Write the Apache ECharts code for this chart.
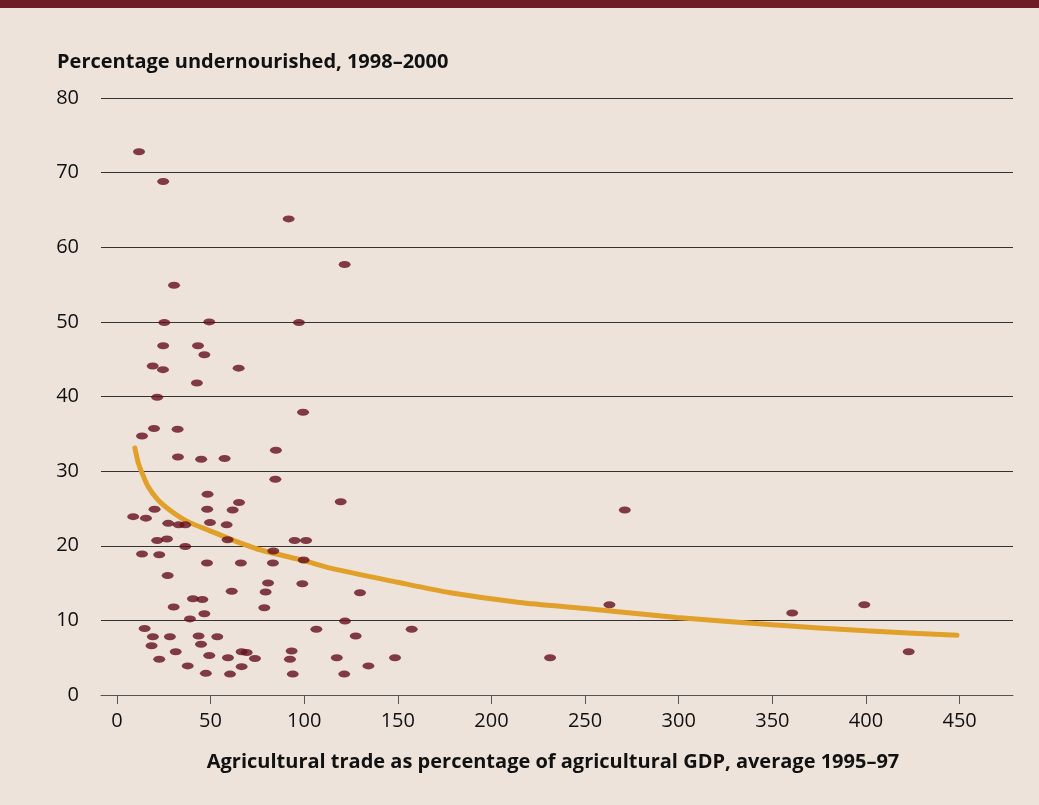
<!DOCTYPE html>
<html>
<head>
<meta charset="utf-8">
<script src="https://cdn.jsdelivr.net/npm/echarts@6/dist/echarts.min.js"></script>
<style>
  html, body { margin: 0; padding: 0; background: #ede3db; }
  #chart { width: 1039px; height: 805px; }
</style>
</head>
<body>
<div id="chart"></div>
<script>
// agricultural trade (% of agricultural GDP) and % undernourished, one entry per country
const tradeShare = [
  11.8, 24.7, 91.7, 121.6, 30.5, 25.3, 49.3, 97.2, 24.7, 43.3,
  46.7, 19.1, 24.6, 65.0, 42.7, 21.5, 99.4, 19.8, 32.4, 13.4,
  84.9, 32.6, 45.0, 57.5, 84.6, 48.4, 65.2, 119.5, 20.1, 48.2,
  61.8, 8.7, 15.5, 27.4, 33.0, 36.5, 49.7, 58.6, 21.5, 26.7,
  59.1, 94.9, 101.0, 36.5, 83.5, 13.4, 22.6, 48.1, 66.2, 83.3,
  99.7, 27.1, 80.7, 99.0, 61.3, 79.4, 129.8, 40.6, 45.6, 30.3,
  78.7, 46.7, 39.0, 121.8, 14.8, 106.5, 157.4, 19.2, 28.3, 43.6,
  53.6, 127.5, 18.5, 44.9, 31.4, 66.6, 69.3, 93.3, 49.3, 59.3,
  73.7, 92.4, 22.6, 117.4, 148.5, 231.3, 37.8, 66.6, 134.3, 47.5,
  60.4, 93.9, 121.4, 271.2, 263.0, 360.6, 399.1, 422.8
];
const undernourished = [
  72.8, 68.8, 63.8, 57.7, 54.9, 49.9, 50.0, 49.9, 46.8, 46.8,
  45.6, 44.1, 43.6, 43.8, 41.8, 39.9, 37.9, 35.7, 35.6, 34.7,
  32.8, 31.9, 31.6, 31.7, 28.9, 26.9, 25.8, 25.9, 24.9, 24.9,
  24.8, 23.9, 23.7, 23.0, 22.8, 22.8, 23.1, 22.8, 20.7, 20.9,
  20.8, 20.7, 20.7, 19.9, 19.3, 18.9, 18.8, 17.7, 17.7, 17.7,
  18.1, 16.0, 15.0, 14.9, 13.9, 13.8, 13.7, 12.9, 12.8, 11.8,
  11.7, 10.9, 10.2, 9.9, 8.9, 8.8, 8.8, 7.8, 7.8, 7.9,
  7.8, 7.9, 6.6, 6.8, 5.8, 5.8, 5.7, 5.9, 5.3, 5.0,
  4.9, 4.8, 4.8, 5.0, 5.0, 5.0, 3.9, 3.8, 3.9, 2.9,
  2.8, 2.8, 2.8, 24.8, 12.1, 11.0, 12.1, 5.8
];

// trend curve
const trendX = [9.6, 11.4, 13.2, 16.7, 22.1, 29.2, 38.1, 48.8, 59.5, 76, 100, 114, 150, 178, 215, 250, 299, 350, 400, 448.6];
const trendY = [33.1, 31.1, 29.9, 27.9, 26.1, 24.6, 23.2, 22.1, 21.0, 19.5, 18.0, 17.0, 15.1, 13.7, 12.4, 11.6, 10.4, 9.4, 8.6, 8.0];

const xTicks = [0, 50, 100, 150, 200, 250, 300, 350, 400, 450];

const FONT = '"Open Sans", "Noto Sans", sans-serif';

const chart = echarts.init(document.getElementById('chart'));

chart.setOption({
  backgroundColor: '#ede3db',
  animation: false,
  title: {
    text: 'Percentage undernourished, 1998–2000',
    left: 52,
    top: 47,
    textStyle: { fontFamily: FONT, fontSize: 20, fontWeight: 'bold', color: '#111' }
  },
  graphic: [{
    type: 'rect',
    left: 0, top: 0,
    shape: { width: 1039, height: 8 },
    style: { fill: '#701c26' }
  }],
  grid: { left: 101, right: 26, top: 98, bottom: 110 },
  xAxis: {
    type: 'value',
    min: -8.5,
    max: 478.5,
    name: 'Agricultural trade as percentage of agricultural GDP, average 1995–97',
    nameLocation: 'middle',
    nameGap: 57,
    nameTextStyle: { fontFamily: FONT, fontSize: 20, fontWeight: 'bold', color: '#111', padding: [0, 8, 0, 0] },
    axisLine: { lineStyle: { color: '#555', width: 1 } },
    axisTick: { customValues: xTicks, length: 9, lineStyle: { color: '#555' } },
    axisLabel: { customValues: xTicks, margin: 16, fontFamily: FONT, fontSize: 20, color: '#111' },
    splitLine: { show: false }
  },
  yAxis: {
    type: 'value',
    min: 0,
    max: 80,
    interval: 10,
    axisLine: { show: false },
    axisTick: { show: false },
    axisLabel: { margin: 22, fontFamily: FONT, fontSize: 20, color: '#111' },
    splitLine: { lineStyle: { color: '#333', width: 1 } }
  },
  series: [
    {
      type: 'scatter',
      symbol: 'circle',
      symbolSize: [12, 7],
      itemStyle: { color: '#640f1d' },
      data: tradeShare.map((x, i) => [x, undernourished[i]]),
      z: 3
    },
    {
      type: 'line',
      smooth: 0.25,
      symbol: 'none',
      lineStyle: { color: '#e0a02a', width: 5, cap: 'round' },
      data: trendX.map((x, i) => [x, trendY[i]]),
      z: 2
    }
  ]
});
</script>
</body>
</html>
